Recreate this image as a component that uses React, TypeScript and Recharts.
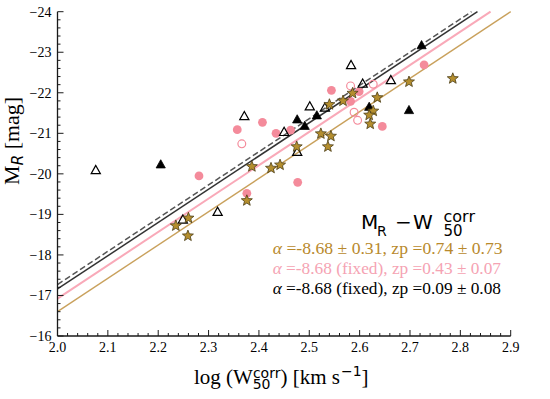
import React from 'react';
import { ScatterChart, Scatter, XAxis, YAxis, ReferenceLine } from 'recharts';

// ---------- data ----------
const openTriangles = [
  { x: 2.076, y: -20.08 }, { x: 2.249, y: -18.86 }, { x: 2.318, y: -19.05 },
  { x: 2.371, y: -21.41 }, { x: 2.45, y: -21.02 }, { x: 2.476, y: -20.53 },
  { x: 2.501, y: -21.65 }, { x: 2.531, y: -21.62 }, { x: 2.583, y: -22.67 },
  { x: 2.606, y: -22.21 }, { x: 2.662, y: -22.3 },
];
const filledTriangles = [
  { x: 2.205, y: -20.22 }, { x: 2.476, y: -21.33 }, { x: 2.491, y: -21.17 },
  { x: 2.515, y: -21.43 }, { x: 2.619, y: -21.64 }, { x: 2.698, y: -21.56 },
  { x: 2.723, y: -23.16 },
];
const pinkFilled = [
  { x: 2.281, y: -19.95 }, { x: 2.357, y: -21.09 }, { x: 2.407, y: -21.27 },
  { x: 2.434, y: -21.0 }, { x: 2.463, y: -21.08 }, { x: 2.477, y: -19.79 },
  { x: 2.376, y: -19.52 }, { x: 2.544, y: -22.06 }, { x: 2.582, y: -21.79 },
  { x: 2.599, y: -22.03 }, { x: 2.645, y: -21.17 }, { x: 2.728, y: -22.69 },
];
const pinkOpen = [
  { x: 2.366, y: -20.74 }, { x: 2.582, y: -22.17 }, { x: 2.627, y: -22.21 },
  { x: 2.589, y: -21.52 }, { x: 2.596, y: -21.32 },
];
const stars = [
  { x: 2.235, y: -18.72 }, { x: 2.26, y: -18.91 }, { x: 2.259, y: -18.47 },
  { x: 2.376, y: -19.34 }, { x: 2.386, y: -20.18 }, { x: 2.424, y: -20.14 },
  { x: 2.442, y: -20.22 }, { x: 2.475, y: -20.67 }, { x: 2.523, y: -20.99 },
  { x: 2.543, y: -20.93 }, { x: 2.537, y: -20.67 }, { x: 2.54, y: -21.71 },
  { x: 2.567, y: -21.8 }, { x: 2.586, y: -21.99 }, { x: 2.635, y: -21.88 },
  { x: 2.627, y: -21.55 }, { x: 2.619, y: -21.45 }, { x: 2.621, y: -21.23 },
  { x: 2.698, y: -22.27 }, { x: 2.785, y: -22.35 },
];

const goldFit = [{ x: 2.0, y: -16.6 }, { x: 2.9, y: -24.0 }];
const pinkFit = [{ x: 2.0, y: -16.92 }, { x: 2.86, y: -24.0 }];
const blackFit = [{ x: 2.0, y: -17.16 }, { x: 2.834, y: -24.0 }];
const blackDashedFit = [{ x: 2.0, y: -17.27 }, { x: 2.822, y: -24.0 }];

const xMajorTicks = [2.0, 2.1, 2.2, 2.3, 2.4, 2.5, 2.6, 2.7, 2.8, 2.9];
const yMajorTicks = [-24, -23, -22, -21, -20, -19, -18, -17, -16];
const xDomain = [2.0, 2.9];
const yDomain = [-24, -16];

const legendLines = [
  '=-8.68 \u00b1 0.31, zp =0.74 \u00b1 0.73',
  '=-8.68 (fixed), zp =0.43 \u00b1 0.07',
  '=-8.68 (fixed), zp =0.09 \u00b1 0.08',
];

// ---------- styling ----------
const FRAME = '#1a1a1a';
const GOLD_LINE = '#c9a15c';
const GOLD_TEXT = '#b8892c';
const PINK = '#f48b9b';
const PINK_LINE = '#f9a9b8';
const PINK_TEXT = '#f5a3b3';
const STAR_FILL = '#b48e2e';
const STAR_EDGE = '#4a3c15';
const SERIF = '"Liberation Serif", "Times New Roman", serif';
const SANS = '"DejaVu Sans", sans-serif';

const xTicks: number[] = [];
for (let i = 0; i <= 45; i++) xTicks.push(Math.round((2.0 + i * 0.02) * 100) / 100);
const yTicks: number[] = [];
for (let i = 0; i <= 40; i++) yTicks.push(Math.round((-24 + i * 0.2) * 10) / 10);

const isMajor = (v: number, majors: number[]) => majors.some((m) => Math.abs(m - v) < 1e-6);

const BottomTick = (p: any) => {
  const v = p.payload.value;
  const major = isMajor(v, xMajorTicks);
  return (
    <g>
      <line x1={p.x} x2={p.x} y1={p.y} y2={p.y - (major ? 6 : 3)} stroke={FRAME} strokeWidth={1} />
      {major && (
        <text x={p.x} y={p.y + 15.7} textAnchor="middle" fontFamily={SERIF} fontSize={14} fill="#000">
          {v.toFixed(1)}
        </text>
      )}
    </g>
  );
};
const TopTick = (p: any) => {
  const major = isMajor(p.payload.value, xMajorTicks);
  return <line x1={p.x} x2={p.x} y1={p.y} y2={p.y + (major ? 6 : 3)} stroke={FRAME} strokeWidth={1} />;
};
const LeftTick = (p: any) => {
  const v = p.payload.value;
  const major = isMajor(v, yMajorTicks);
  return (
    <g>
      <line x1={p.x} x2={p.x + (major ? 6 : 3)} y1={p.y} y2={p.y} stroke={FRAME} strokeWidth={1} />
      {major && (
        <text x={p.x - 6} y={p.y + 5} textAnchor="end" fontFamily={SERIF} fontSize={14} fill="#000">
          {'\u2212' + Math.abs(v)}
        </text>
      )}
    </g>
  );
};
const RightTick = (p: any) => {
  const major = isMajor(p.payload.value, yMajorTicks);
  return <line x1={p.x} x2={p.x - (major ? 6 : 3)} y1={p.y} y2={p.y} stroke={FRAME} strokeWidth={1} />;
};

const triPts = (cx: number, cy: number) => `${cx},${cy - 5.2} ${cx - 4.6},${cy + 3} ${cx + 4.6},${cy + 3}`;
const OpenTri = (p: any) => <polygon points={triPts(p.cx, p.cy)} fill="none" stroke="#000" strokeWidth={1.2} />;
const FilledTri = (p: any) => <polygon points={triPts(p.cx, p.cy)} fill="#000" stroke="#000" strokeWidth={0.8} />;
const PinkDot = (p: any) => <circle cx={p.cx} cy={p.cy} r={4.4} fill={PINK} />;
const PinkRing = (p: any) => <circle cx={p.cx} cy={p.cy} r={3.9} fill="none" stroke={PINK} strokeWidth={1.2} />;
const Star = (p: any) => {
  const pts: string[] = [];
  for (let i = 0; i < 10; i++) {
    const r = i % 2 === 0 ? 5.8 : 2.5;
    const a = -Math.PI / 2 + (i * Math.PI) / 5;
    pts.push(`${p.cx + r * Math.cos(a)},${p.cy + r * Math.sin(a)}`);
  }
  return <polygon points={pts.join(' ')} fill={STAR_FILL} stroke={STAR_EDGE} strokeWidth={0.8} />;
};

export default function App() {
  return (
    <div style={{ position: 'absolute', left: 0, top: 0, width: 550, height: 399 }}>
      <ScatterChart width={550} height={399} margin={{ top: 11.7, right: 39.3, bottom: 0, left: 0 }}>
        <XAxis
          type="number" dataKey="x" domain={xDomain} ticks={xTicks} interval={0}
          allowDataOverflow height={63} tickSize={0} tickMargin={0} tickLine={false}
          axisLine={{ stroke: FRAME, strokeWidth: 1.3 }} tick={BottomTick}
        />
        <XAxis
          xAxisId="top" orientation="top" type="number" dataKey="x" domain={xDomain} ticks={xTicks}
          interval={0} allowDataOverflow height={0} tickSize={0} tickMargin={0} tickLine={false}
          axisLine={{ stroke: FRAME, strokeWidth: 1.3 }} tick={TopTick}
        />
        <YAxis
          type="number" dataKey="y" domain={yDomain} ticks={yTicks} interval={0} reversed
          allowDataOverflow width={57.5} tickSize={0} tickMargin={0} tickLine={false}
          axisLine={{ stroke: FRAME, strokeWidth: 1.3 }} tick={LeftTick}
        />
        <YAxis
          yAxisId="right" orientation="right" type="number" dataKey="y" domain={yDomain} ticks={yTicks}
          interval={0} reversed allowDataOverflow width={0} tickSize={0} tickMargin={0} tickLine={false}
          axisLine={{ stroke: FRAME, strokeWidth: 1.3 }} tick={RightTick}
        />
        <Scatter data={pinkFilled} shape={PinkDot} isAnimationActive={false} />
        <Scatter data={pinkOpen} shape={PinkRing} isAnimationActive={false} />
        <Scatter data={openTriangles} shape={OpenTri} isAnimationActive={false} />
        <Scatter data={filledTriangles} shape={FilledTri} isAnimationActive={false} />
        <Scatter data={stars} shape={Star} isAnimationActive={false} />
        <ReferenceLine segment={goldFit} stroke={GOLD_LINE} strokeWidth={1.4} />
        <ReferenceLine segment={pinkFit} stroke={PINK_LINE} strokeWidth={2} />
        <ReferenceLine segment={blackFit} stroke="#333" strokeWidth={1.5} />
        <ReferenceLine segment={blackDashedFit} stroke="#555" strokeWidth={1.5} strokeDasharray="6 3" />
      </ScatterChart>
      <svg
        width={550} height={399}
        style={{ position: 'absolute', left: 0, top: 0, pointerEvents: 'none', overflow: 'visible' }}
      >
        {/* title M_R - W^corr_50 */}
        <text x={361} y={229.3} fontFamily={SANS} fontSize={20} fill="#000">M</text>
        <text x={377} y={235.5} fontFamily={SANS} fontSize={14} fill="#000">R</text>
        <text x={395} y={229.3} fontFamily={SANS} fontSize={20} fill="#000">{'\u2212'}</text>
        <text x={413} y={229.3} fontFamily={SANS} fontSize={20} fill="#000">W</text>
        <text x={443.5} y={221.7} fontFamily={SANS} fontSize={16} fill="#000">corr</text>
        <text x={443.5} y={235.7} fontFamily={SANS} fontSize={15} fill="#000">50</text>
        {/* fit results */}
        {legendLines.map((t, i) => (
          <text
            key={i} x={272.7} y={254 + i * 20.1} fontFamily={SERIF} fontSize={16}
            fill={[GOLD_TEXT, PINK_TEXT, '#000'][i]}
            textLength={i === 0 ? 230 : 228.3} lengthAdjust="spacingAndGlyphs"
          >
            <tspan fontStyle="italic">{'\u03b1'}</tspan>
            {' ' + t}
          </text>
        ))}
        {/* y label */}
        <text
          transform="rotate(-90, 18.5, 185)" x={18.5} y={185} fontFamily={SERIF} fontSize={21} fill="#000"
          textLength={88} lengthAdjust="spacingAndGlyphs"
        >
          M<tspan fontSize={15} fontStyle="italic" fontFamily={SANS} dy={4}>R</tspan>
          <tspan dy={-4}>{' [mag]'}</tspan>
        </text>
        {/* x label: log (W^corr_50) [km s^-1] */}
        <text x={194} y={384} fontFamily={SERIF} fontSize={21} fill="#000">
          {'log (W'}
          <tspan fontFamily={SANS} fontSize={14} dy={-6.5}>corr</tspan>
          <tspan fontFamily={SANS} fontSize={14} dx={-27.8} dy={11.5}>50</tspan>
          <tspan dx={10} dy={-5}>{') [km s'}</tspan>
          <tspan fontFamily={SANS} fontSize={14} dx={1} dy={-8}>{'\u22121'}</tspan>
          <tspan dy={8}>]</tspan>
        </text>
      </svg>
    </div>
  );
}
